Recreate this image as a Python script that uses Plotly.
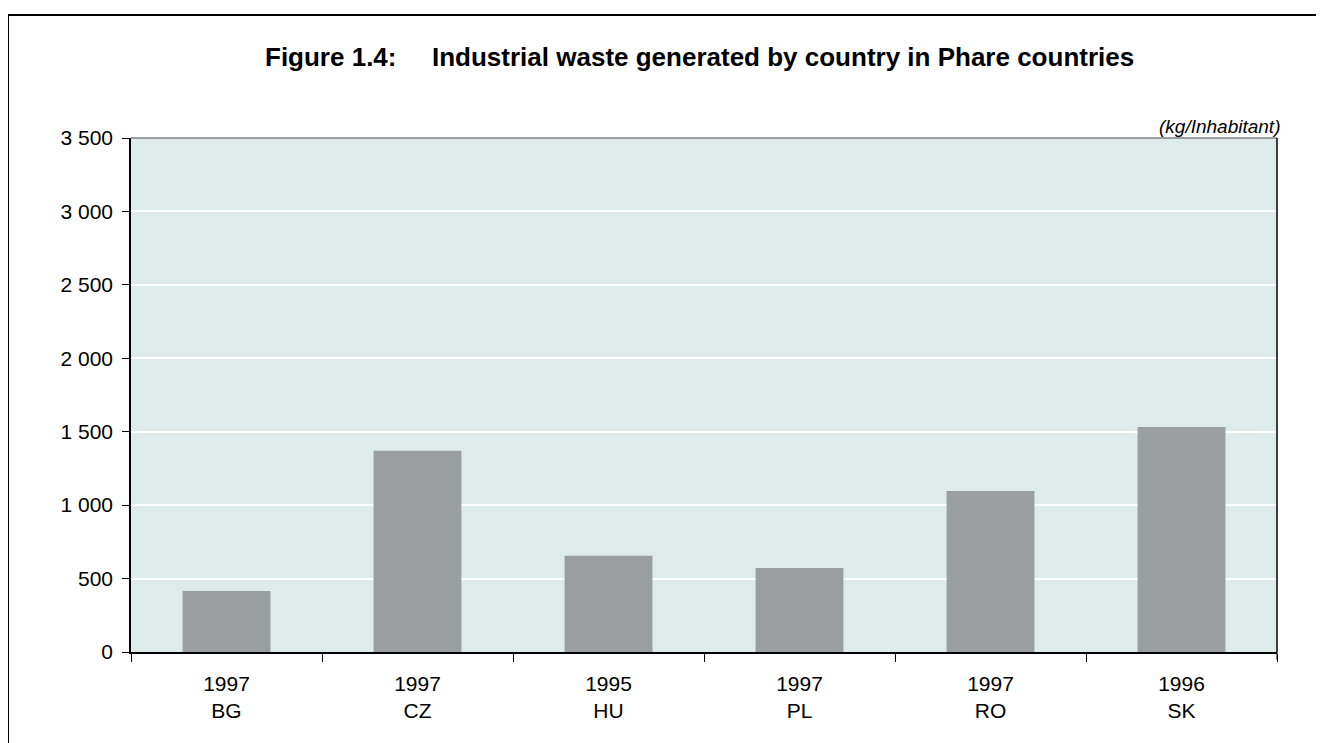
import plotly.graph_objects as go

countries = ["BG", "CZ", "HU", "PL", "RO", "SK"]
years = ["1997", "1997", "1995", "1997", "1997", "1996"]
values = [415, 1370, 655, 572, 1096, 1532]
y_ticks = [0, 500, 1000, 1500, 2000, 2500, 3000, 3500]
y_tick_labels = ["0", "500", "1 000", "1 500", "2 000", "2 500", "3 000", "3 500"]

x_labels = [f"{y}<br>{c}" for y, c in zip(years, countries)]

FONT = "Liberation Sans, Arial, sans-serif"

# page body has an 8px margin; compensate so the plot lands where the reference has it
OFF = 8
FIG_W, FIG_H = 1324 - OFF, 743 - OFF
L, R, T, B = 131 - OFF, 47, 138 - OFF, 91

fig = go.Figure()
fig.add_trace(go.Bar(
    x=x_labels, y=values,
    marker=dict(color="#9A9EA0", line=dict(width=0)),
    width=0.46,
    showlegend=False,
))

fig.update_layout(
    width=FIG_W, height=FIG_H,
    margin=dict(l=L, r=R, t=T, b=B, pad=0),
    paper_bgcolor="white",
    plot_bgcolor="#DDECEB",
    font=dict(family=FONT, size=20, color="black"),
    bargap=0.54,
)
fig.update_xaxes(
    type="category",
    tickson="boundaries",
    ticks="outside", ticklen=8, tickwidth=1, tickcolor="black",
    showline=True, linecolor="black", linewidth=1.5,
    showgrid=False,
    tickfont=dict(family=FONT, size=21),
    ticklabelstandoff=12,
    range=[-0.5, 5.5],
)
fig.update_yaxes(
    range=[0, 3500],
    tickvals=y_ticks, ticktext=y_tick_labels,
    ticks="outside", ticklen=7, tickwidth=1, tickcolor="black",
    showline=True, linecolor="black", linewidth=1.5,
    showgrid=True, gridcolor="white", gridwidth=2,
    zeroline=False,
    tickfont=dict(family=FONT, size=21),
    ticklabelstandoff=5,
)

PW, PH = FIG_W - L - R, FIG_H - T - B

def px_x(px):
    return (px - OFF - L) / PW

def px_y(py):
    return (FIG_H - B - (py - OFF)) / PH

# plot-area top (gray) and right (black) borders
fig.add_shape(type="line", xref="paper", yref="paper", x0=0, x1=1, y0=1, y1=1,
              line=dict(color="#808080", width=1.5))
fig.add_shape(type="line", xref="paper", yref="paper", x0=1, x1=1, y0=0, y1=1,
              line=dict(color="black", width=1.5))
fig.add_shape(type="line", xref="paper", yref="paper", x0=1, x1=1, y0=0, y1=-8 / PH,
              line=dict(color="black", width=1))

# outer figure border (top and left)
fig.add_shape(type="line", xref="paper", yref="paper",
              x0=px_x(8), x1=px_x(1330), y0=px_y(15), y1=px_y(15),
              line=dict(color="black", width=2))
fig.add_shape(type="line", xref="paper", yref="paper",
              x0=px_x(8), x1=px_x(8), y0=px_y(15), y1=px_y(750),
              line=dict(color="black", width=2))

# title
fig.add_annotation(xref="paper", yref="paper", x=px_x(263), y=px_y(57),
                   xanchor="left", yanchor="middle", showarrow=False,
                   text="<b>Figure 1.4:</b>", font=dict(family=FONT, size=26))
fig.add_annotation(xref="paper", yref="paper", x=px_x(430), y=px_y(57),
                   xanchor="left", yanchor="middle", showarrow=False,
                   text="<b>Industrial waste generated by country in Phare countries</b>",
                   font=dict(family=FONT, size=26))
# unit label
fig.add_annotation(xref="paper", yref="paper", x=px_x(1282), y=px_y(126),
                   xanchor="right", yanchor="middle", showarrow=False,
                   text="<i>(kg/Inhabitant)</i>", font=dict(family=FONT, size=19))

fig.write_html("out.html")
